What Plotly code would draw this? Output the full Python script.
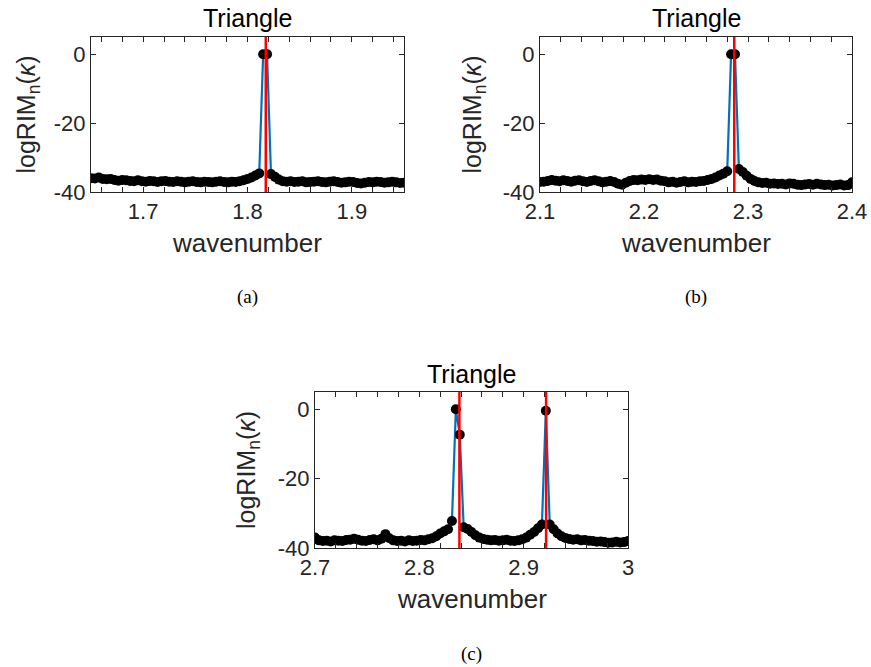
import numpy as np
import plotly.graph_objects as go

# ---------------- data ----------------
# sampling grids (81 samples per window)
x_a_range = [1.65, 1.95]
x_b_range = [2.10, 2.40]
x_c_range = [2.70, 3.00]
n_samples = 81

y_a = [-36.0, -36.1, -35.8, -36.2, -36.3, -36.2, -36.5, -36.7, -36.5, -36.6,
       -36.8, -36.9, -36.6, -36.9, -37.0, -36.8, -36.9, -37.1, -36.9, -36.8,
       -37.0, -37.1, -36.9, -37.0, -37.2, -37.0, -36.9, -37.1, -37.2, -37.0,
       -37.1, -37.2, -37.0, -36.9, -37.1, -37.2, -37.0, -37.1, -36.9, -36.6,
       -36.2, -35.8, -35.2,
       -34.6, 0.0, 0.0, -34.8,
       -35.6, -36.4, -36.9, -37.0,
       -36.9, -37.1, -37.0, -36.9, -37.2, -37.1, -37.0, -36.9, -37.1, -37.2,
       -37.0, -36.9, -37.1, -37.3, -37.2, -37.0, -37.1, -37.4, -37.5, -37.3,
       -37.1, -37.2, -37.0, -37.1, -37.3, -37.2, -37.0, -37.2, -37.4, -37.3]

y_b = [-37.1, -37.0, -36.8, -36.5, -36.7, -36.9, -36.6, -36.8, -37.0, -36.7,
       -36.6, -36.9, -37.1, -36.8, -36.6, -36.9, -37.2, -37.0, -36.8, -37.1,
       -37.6, -37.9, -37.3, -36.8, -36.5, -36.6, -36.4, -36.5, -36.3, -36.5,
       -36.4, -36.7, -36.9, -37.2, -37.0, -37.3, -37.1, -36.9, -37.2, -37.0,
       -37.1, -36.9, -36.8, -36.5, -36.2, -35.8, -35.2, -34.7,
       -34.0, 0.0, 0.0, -33.3,
       -34.2, -35.3, -36.2, -36.8, -37.2, -37.4, -37.3, -37.6, -37.5,
       -37.7, -37.6, -37.8, -37.5, -37.6, -37.9, -38.0, -37.8, -37.7, -37.9,
       -37.6, -37.8, -38.0, -37.9, -38.1, -38.0, -37.8, -38.1, -38.0, -37.2]

y_c = [-37.0, -37.8, -38.0, -37.9, -38.1, -37.8, -37.9, -38.0, -37.7, -37.6,
       -37.3, -37.6, -37.9, -38.0, -37.7, -37.5, -37.8, -37.3, -36.0, -37.2,
       -37.8, -38.0, -37.9, -38.1, -37.8, -38.0, -37.9, -37.7, -37.8, -37.5,
       -37.2, -36.6, -35.8, -35.2, -34.6,
       -32.2, 0.0, -7.3, -34.0,
       -34.5, -35.4, -36.3, -37.0, -37.4, -37.6, -37.8, -37.7, -37.9, -37.8,
       -37.6, -37.9, -38.0, -37.8, -37.5, -37.0, -36.2, -35.4, -34.3,
       -33.2, -0.4, -33.2,
       -34.6, -35.8, -36.6, -37.1, -37.4, -37.6, -37.5, -37.8, -37.7, -37.9,
       -38.0, -38.2, -38.1, -38.3, -38.5, -38.4, -38.2, -38.4, -38.3, -38.0]

# true eigen-wavenumbers (red lines)
eig_a = [1.8175]
eig_b = [2.2868]
eig_c = [2.8384, 2.9215]

# tick labels
xt_a = [1.7, 1.8, 1.9]
xt_b = [2.1, 2.2, 2.3, 2.4]
xt_c = [2.7, 2.8, 2.9, 3.0]
xl_a = ["1.7", "1.8", "1.9"]
xl_b = ["2.1", "2.2", "2.3", "2.4"]
xl_c = ["2.7", "2.8", "2.9", "3"]
yt = [-40, -20, 0]
yl = ["-40", "-20", "0"]
y_range = [-40, 5]

panel_title = "Triangle"
x_label = "wavenumber"
y_label = "logRIM<sub>n</sub>(<i>κ</i>)"
captions = ["(a)", "(b)", "(c)"]

# ---------------- figure ----------------
W, H = 871, 667
FONT = "Liberation Sans"
AXC = "#262626"
BLUE = "#0072BD"

def px2x(p):
    return p / W

def px2y(p):
    return 1 - p / H

# panel boxes in screen pixels (left, right, top, bottom)
boxes = [(91, 404, 37, 192), (540, 852, 37, 192), (315, 628, 392, 548)]
panels = [
    (x_a_range, y_a, eig_a, xt_a, xl_a),
    (x_b_range, y_b, eig_b, xt_b, xl_b),
    (x_c_range, y_c, eig_c, xt_c, xl_c),
]
ylabel_x = [27, 473, 248]
title_y = [18, 18, 374]
caption_y = [297, 297, 654]

fig = go.Figure()
annotations = []
shapes = []

for i, ((xr, yv, eig, xt, xl), (L, R, T, B)) in enumerate(zip(panels, boxes)):
    sfx = "" if i == 0 else str(i + 1)
    xname, yname = "x" + sfx, "y" + sfx
    xs = np.linspace(xr[0], xr[1], n_samples)
    fig.add_trace(go.Scatter(x=xs, y=yv, mode="lines",
                             line=dict(color=BLUE, width=2.2),
                             xaxis=xname, yaxis=yname, showlegend=False,
                             hoverinfo="skip"))
    fig.add_trace(go.Scatter(x=xs, y=yv, mode="markers",
                             marker=dict(color="black", size=10, line=dict(width=0)),
                             xaxis=xname, yaxis=yname, showlegend=False))
    for v in eig:
        shapes.append(dict(type="line", xref=xname, yref=yname + " domain",
                           x0=v, x1=v, y0=0, y1=1,
                           line=dict(color="#FF0000", width=2.5), layer="above"))

    xaxis = dict(domain=[px2x(L), px2x(R)], anchor=yname, range=xr,
                 automargin=False,
                 tickmode="array", tickvals=xt, ticktext=xl,
                 ticks="inside", ticklen=5, tickwidth=1, tickcolor=AXC,
                 showline=True, linecolor=AXC, linewidth=1, mirror="allticks",
                 showgrid=False, zeroline=False,
                 tickfont=dict(family=FONT, size=22, color=AXC),
                 minor=dict(tickmode="linear", tick0=xt[0], dtick=0.02,
                            ticks="inside", ticklen=5, tickcolor=AXC,
                            showgrid=False))
    yaxis = dict(domain=[px2y(B), px2y(T)], anchor=xname, range=y_range,
                 automargin=False,
                 tickmode="array", tickvals=yt, ticktext=yl,
                 ticks="inside", ticklen=5, tickwidth=1, tickcolor=AXC,
                 showline=True, linecolor=AXC, linewidth=1, mirror="allticks",
                 showgrid=False, zeroline=False,
                 tickfont=dict(family=FONT, size=22, color=AXC))
    fig.update_layout(**{"xaxis" + sfx: xaxis, "yaxis" + sfx: yaxis})

    cx = px2x((L + R) / 2)
    annotations.append(dict(text=panel_title, x=cx, y=px2y(title_y[i]),
                            xref="paper", yref="paper", xanchor="center",
                            yanchor="middle", showarrow=False,
                            font=dict(family=FONT, size=25, color="black")))
    annotations.append(dict(text=x_label, x=cx, y=px2y(B + 51), xref="paper",
                            yref="paper", xanchor="center", yanchor="middle",
                            showarrow=False,
                            font=dict(family=FONT, size=26, color=AXC)))
    annotations.append(dict(text=y_label, x=px2x(ylabel_x[i]), y=px2y((T + B) / 2),
                            xref="paper", yref="paper", xanchor="center",
                            yanchor="middle", textangle=-90, showarrow=False,
                            font=dict(family=FONT, size=25, color=AXC)))
    annotations.append(dict(text=captions[i], x=cx, y=px2y(caption_y[i]),
                            xref="paper", yref="paper", xanchor="center",
                            yanchor="middle", showarrow=False,
                            font=dict(family="Liberation Serif", size=19,
                                      color="black")))

fig.update_layout(width=W, height=H, margin=dict(l=0, r=0, t=0, b=0),
                  paper_bgcolor="white", plot_bgcolor="white",
                  showlegend=False, annotations=annotations, shapes=shapes)

fig.write_html("out.html",
               config={"displayModeBar": False},
               post_script="document.body.style.margin='0';"
                           "document.body.style.overflow='hidden';")
